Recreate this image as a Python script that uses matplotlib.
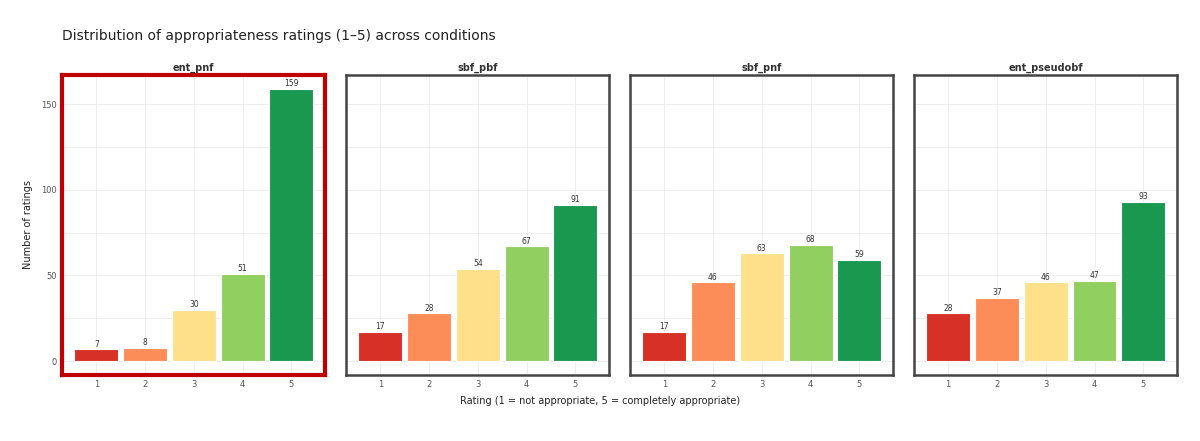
import numpy as np
import matplotlib.pyplot as plt

# ratings 1..5 per condition
ratings = [1, 2, 3, 4, 5]
conditions = ["ent_pnf", "sbf_pbf", "sbf_pnf", "ent_pseudobf"]
counts_ent_pnf = [7, 8, 30, 51, 159]
counts_sbf_pbf = [17, 28, 54, 67, 91]
counts_sbf_pnf = [17, 46, 63, 68, 59]
counts_ent_pseudobf = [28, 37, 46, 47, 93]
all_counts = [counts_ent_pnf, counts_sbf_pbf, counts_sbf_pnf, counts_ent_pseudobf]

bar_colors = ["#d73027", "#fc8d59", "#fee08b", "#91cf60", "#1a9850"]
highlight = "ent_pnf"

fig, axes = plt.subplots(1, 4, figsize=(12, 4.41), dpi=100, sharey=True)
fig.subplots_adjust(left=0.052, right=0.981, top=0.83, bottom=0.15, wspace=0.08)

ymax = max(max(c) for c in all_counts)

for ax, name, counts in zip(axes, conditions, all_counts):
    bars = ax.bar(ratings, counts, width=0.9, color=bar_colors,
                  edgecolor="white", linewidth=0.8, zorder=3)
    ax.bar_label(bars, labels=[str(c) for c in counts], fontsize=5.5,
                 color="#333333", padding=0.5)
    ax.set_title(name, fontsize=7, fontweight="bold", color="#333333", pad=3)
    ax.set_xticks(ratings)
    ax.set_yticks([0, 50, 100, 150])
    ax.set_yticks([25, 75, 125], minor=True)
    ax.grid(True, which="both", color="#ebebeb", linewidth=0.6, zorder=0)
    ax.tick_params(axis="both", which="both", length=0, labelsize=6,
                   labelcolor="#555555", pad=4)
    if name == highlight:
        for sp in ax.spines.values():
            sp.set_color("#c00000")
            sp.set_linewidth(3)
    else:
        for sp in ax.spines.values():
            sp.set_color("#444444")
            sp.set_linewidth(1.8)

axes[0].set_ylim(-0.05 * ymax, 1.05 * ymax)

axes[0].set_ylabel("Number of ratings", fontsize=7, color="#222222", labelpad=6)
fig.supxlabel("Rating (1 = not appropriate, 5 = completely appropriate)",
              fontsize=7, color="#222222", x=0.5, y=0.08)
fig.suptitle("Distribution of appropriateness ratings (1\u20135) across conditions",
             fontsize=10, color="#222222", x=0.052, y=0.935, ha="left")

fig.savefig("out.png", dpi=100)
